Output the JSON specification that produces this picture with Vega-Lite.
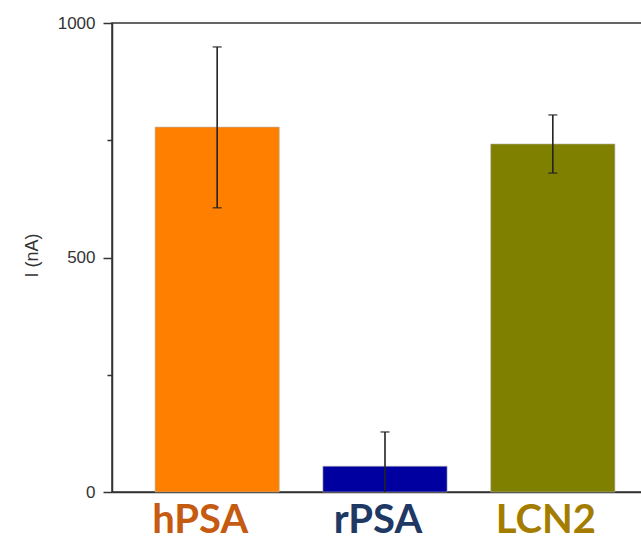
{
  "$schema": "https://vega.github.io/schema/vega-lite/v6.json",
  "autosize": {"type": "none"},
  "padding": {"left": 112, "top": 23, "right": 0, "bottom": 50},
  "width": 530,
  "height": 469,
  "background": "white",
  "config": {
    "view": {"stroke": "#333333", "strokeWidth": 1.5},
    "axis": {"grid": false}
  },
  "data": {
    "values": [
      {"sample": "hPSA", "current": 778, "lo": 606, "hi": 949},
      {"sample": "rPSA", "current": 55, "lo": -18, "hi": 128},
      {"sample": "LCN2", "current": 742, "lo": 680, "hi": 804}
    ]
  },
  "encoding": {
    "x": {
      "field": "sample",
      "type": "nominal",
      "sort": ["hPSA", "rPSA", "LCN2"],
      "scale": {"paddingInner": 0.26, "paddingOuter": 0.209, "align": 0.614},
      "axis": {
        "title": null,
        "ticks": false,
        "labelAngle": 0,
        "labelFont": "Lato",
        "labelFontWeight": "bold",
        "labelFontSize": 40,
        "labelBaseline": "alphabetic",
        "labelPadding": 40,
        "labelOffset": {"condition": {"test": "datum.value === 'hPSA'", "value": -17}, "value": -7},
        "labelColor": {
          "condition": [
            {"test": "datum.value === 'hPSA'", "value": "#C55A11"},
            {"test": "datum.value === 'rPSA'", "value": "#203864"}
          ],
          "value": "#A47D00"
        },
        "domainColor": "#333333",
        "domainWidth": 1.5
      }
    }
  },
  "layer": [
    {
      "mark": {"type": "bar", "stroke": "#b0b0b0", "strokeWidth": 0.6},
      "encoding": {
        "y": {
          "field": "current",
          "type": "quantitative",
          "scale": {"domain": [0, 1000], "nice": false},
          "axis": {
            "title": "I (nA)",
            "titleFont": "Liberation Sans",
            "titleFontSize": 18,
            "titleFontWeight": "normal",
            "titleColor": "#333333",
            "titleAngle": 270,
            "titleX": -80,
            "titleY": 232,
            "titleAlign": "center",
            "titleBaseline": "middle",
            "values": [0, 250, 500, 750, 1000],
            "format": "d",
            "labelExpr": "datum.value % 500 === 0 ? datum.label : ''",
            "labelFont": "Liberation Sans",
            "labelFontSize": 17,
            "labelColor": "#333333",
            "labelPadding": 8,
            "tickSize": {"condition": {"test": "datum.value % 500 === 0", "value": 9}, "value": 5},
            "tickColor": "#333333",
            "tickWidth": 1.5,
            "domainColor": "#333333",
            "domainWidth": 1.5
          }
        },
        "color": {
          "field": "sample",
          "type": "nominal",
          "scale": {"domain": ["hPSA", "rPSA", "LCN2"], "range": ["#FF8000", "#0000A0", "#808000"]},
          "legend": null
        }
      }
    },
    {
      "mark": {"type": "rule", "color": "#222222", "strokeWidth": 1.6, "clip": true},
      "encoding": {
        "y": {"field": "lo", "type": "quantitative"},
        "y2": {"field": "hi"}
      }
    },
    {
      "mark": {"type": "tick", "color": "#222222", "thickness": 1.6, "size": 9, "clip": true},
      "encoding": {
        "y": {"field": "hi", "type": "quantitative"}
      }
    },
    {
      "mark": {"type": "tick", "color": "#222222", "thickness": 1.6, "size": 9, "clip": true},
      "encoding": {
        "y": {"field": "lo", "type": "quantitative"}
      }
    }
  ]
}
